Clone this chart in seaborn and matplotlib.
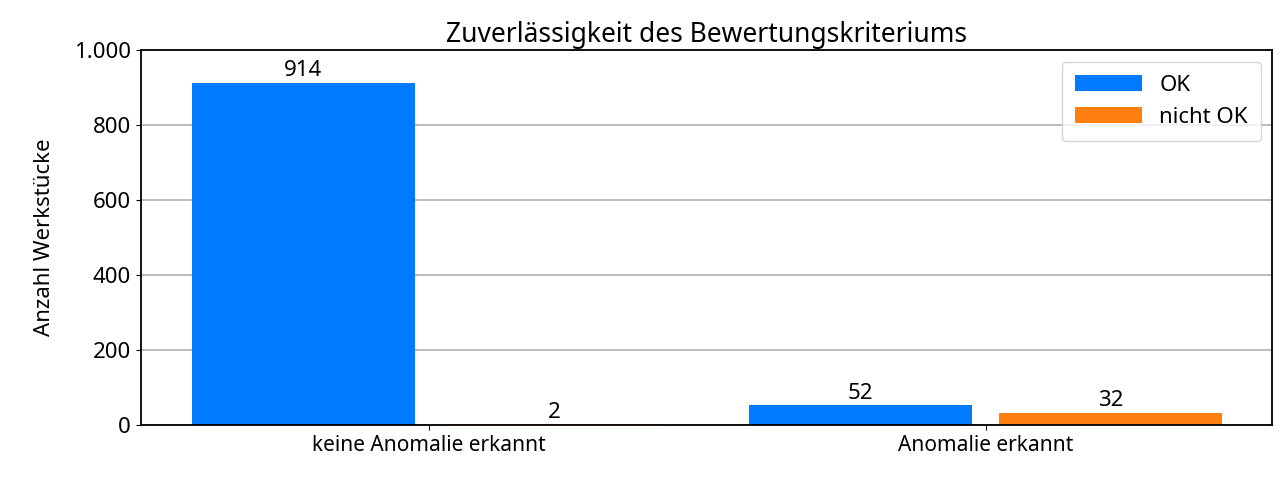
import pandas as pd
import seaborn as sns
import matplotlib.pyplot as plt
from matplotlib.ticker import FuncFormatter

plt.rcParams["font.family"] = "Noto Sans"

# data
categories = ["keine Anomalie erkannt", "Anomalie erkannt"]
ok_values = [914, 52]
nicht_ok_values = [2, 32]

df = pd.DataFrame({
    "Kategorie": categories * 2,
    "Status": ["OK"] * 2 + ["nicht OK"] * 2,
    "Anzahl": ok_values + nicht_ok_values,
})

fig, ax = plt.subplots(figsize=(12.8, 4.8), dpi=100)
ax.set_axisbelow(True)
ax.yaxis.grid(True, color="#b0b0b0", linewidth=1.2)
sns.barplot(data=df, x="Kategorie", y="Anzahl", hue="Status",
            palette=["#007aff", "#ff7f0e"], saturation=1, width=0.9, gap=0.111, ax=ax)

for c in ax.containers:
    ax.bar_label(c, fontsize=16, padding=1)

ax.set_ylim(0, 1000)
ax.set_xlim(-0.517, 1.515)
ax.yaxis.set_major_formatter(FuncFormatter(lambda v, p: f"{int(v):,}".replace(",", ".")))
ax.set_xlabel("")
ax.set_ylabel("Anzahl Werkstücke", fontsize=16, labelpad=14)
ax.set_title("Zuverlässigkeit des Bewertungskriteriums", fontsize=19)
ax.tick_params(axis="y", labelsize=16)
ax.tick_params(axis="x", labelsize=15)
for s in ax.spines.values():
    s.set_linewidth(1.3)
ax.legend(title=None, fontsize=16, loc="upper right", handlelength=3, borderpad=0.6)

plt.subplots_adjust(left=0.11, right=0.994, top=0.895, bottom=0.115)
plt.savefig("out.png")
